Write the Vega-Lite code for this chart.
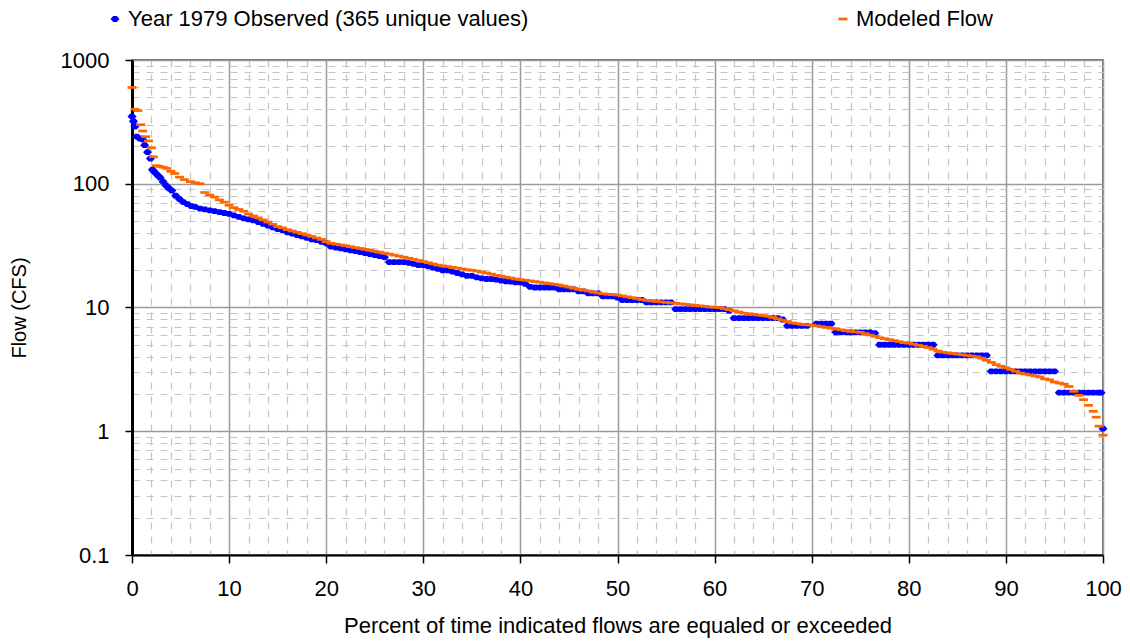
{
  "$schema": "https://vega.github.io/schema/vega-lite/v6.json",
  "width": 971,
  "height": 495,
  "autosize": {"type": "none"},
  "padding": {"left": 132, "top": 60, "right": 27, "bottom": 87},
  "background": "white",
  "config": {
    "font": "Liberation Sans",
    "view": {"stroke": "#404040", "strokeWidth": 1.5}
  },
  "data": {
    "values": [
      {"series": "Observed", "pct": 0, "flow": 350},
      {"series": "Observed", "pct": 0.15, "flow": 320},
      {"series": "Observed", "pct": 0.3, "flow": 290},
      {"series": "Observed", "pct": 0.5, "flow": 240},
      {"series": "Observed", "pct": 0.8, "flow": 232},
      {"series": "Observed", "pct": 1.1, "flow": 228},
      {"series": "Observed", "pct": 1.3, "flow": 205},
      {"series": "Observed", "pct": 1.6, "flow": 180},
      {"series": "Observed", "pct": 1.9, "flow": 160},
      {"series": "Observed", "pct": 2.1, "flow": 130},
      {"series": "Observed", "pct": 2.3, "flow": 125},
      {"series": "Observed", "pct": 2.6, "flow": 118},
      {"series": "Observed", "pct": 2.9, "flow": 112},
      {"series": "Observed", "pct": 3.2, "flow": 104},
      {"series": "Observed", "pct": 3.5, "flow": 97},
      {"series": "Observed", "pct": 3.8, "flow": 92},
      {"series": "Observed", "pct": 4.1, "flow": 88},
      {"series": "Observed", "pct": 4.5, "flow": 80},
      {"series": "Observed", "pct": 4.9, "flow": 75},
      {"series": "Observed", "pct": 5.3, "flow": 71},
      {"series": "Observed", "pct": 5.7, "flow": 68.5},
      {"series": "Observed", "pct": 6.1, "flow": 66},
      {"series": "Observed", "pct": 6.5, "flow": 65},
      {"series": "Observed", "pct": 7, "flow": 63},
      {"series": "Observed", "pct": 7.5, "flow": 62},
      {"series": "Observed", "pct": 8, "flow": 61},
      {"series": "Observed", "pct": 8.5, "flow": 60},
      {"series": "Observed", "pct": 9, "flow": 59},
      {"series": "Observed", "pct": 9.5, "flow": 58},
      {"series": "Observed", "pct": 10, "flow": 57},
      {"series": "Observed", "pct": 10.5, "flow": 55.5},
      {"series": "Observed", "pct": 11, "flow": 54},
      {"series": "Observed", "pct": 11.5, "flow": 52.5},
      {"series": "Observed", "pct": 12, "flow": 51.5},
      {"series": "Observed", "pct": 12.5, "flow": 50.5},
      {"series": "Observed", "pct": 13, "flow": 49},
      {"series": "Observed", "pct": 13.5, "flow": 47.5},
      {"series": "Observed", "pct": 14, "flow": 46},
      {"series": "Observed", "pct": 14.5, "flow": 44.5},
      {"series": "Observed", "pct": 15, "flow": 43},
      {"series": "Observed", "pct": 15.5, "flow": 42},
      {"series": "Observed", "pct": 16, "flow": 40.5},
      {"series": "Observed", "pct": 16.5, "flow": 39.5},
      {"series": "Observed", "pct": 17, "flow": 38.5},
      {"series": "Observed", "pct": 17.5, "flow": 37.5},
      {"series": "Observed", "pct": 18, "flow": 36.5},
      {"series": "Observed", "pct": 18.5, "flow": 35.5},
      {"series": "Observed", "pct": 19, "flow": 35},
      {"series": "Observed", "pct": 19.5, "flow": 34},
      {"series": "Observed", "pct": 20, "flow": 33},
      {"series": "Observed", "pct": 20.5, "flow": 31},
      {"series": "Observed", "pct": 21, "flow": 30.5},
      {"series": "Observed", "pct": 21.5, "flow": 30},
      {"series": "Observed", "pct": 22, "flow": 29.5},
      {"series": "Observed", "pct": 22.5, "flow": 29},
      {"series": "Observed", "pct": 23, "flow": 28.5},
      {"series": "Observed", "pct": 23.5, "flow": 28},
      {"series": "Observed", "pct": 24, "flow": 27.5},
      {"series": "Observed", "pct": 24.5, "flow": 27},
      {"series": "Observed", "pct": 25, "flow": 26.5},
      {"series": "Observed", "pct": 25.5, "flow": 26},
      {"series": "Observed", "pct": 26, "flow": 25.5},
      {"series": "Observed", "pct": 26.5, "flow": 23.3},
      {"series": "Observed", "pct": 27, "flow": 23.3},
      {"series": "Observed", "pct": 27.5, "flow": 23.3},
      {"series": "Observed", "pct": 28, "flow": 23.3},
      {"series": "Observed", "pct": 28.5, "flow": 23},
      {"series": "Observed", "pct": 29, "flow": 22.5},
      {"series": "Observed", "pct": 29.5, "flow": 22},
      {"series": "Observed", "pct": 30, "flow": 22},
      {"series": "Observed", "pct": 30.5, "flow": 21.5},
      {"series": "Observed", "pct": 31, "flow": 21},
      {"series": "Observed", "pct": 31.5, "flow": 20.5},
      {"series": "Observed", "pct": 32, "flow": 20},
      {"series": "Observed", "pct": 32.5, "flow": 20},
      {"series": "Observed", "pct": 33, "flow": 19.5},
      {"series": "Observed", "pct": 33.5, "flow": 19},
      {"series": "Observed", "pct": 34, "flow": 18.5},
      {"series": "Observed", "pct": 34.5, "flow": 18},
      {"series": "Observed", "pct": 35, "flow": 18},
      {"series": "Observed", "pct": 35.5, "flow": 17.5},
      {"series": "Observed", "pct": 36, "flow": 17.2},
      {"series": "Observed", "pct": 36.5, "flow": 17},
      {"series": "Observed", "pct": 37, "flow": 17},
      {"series": "Observed", "pct": 37.5, "flow": 16.8},
      {"series": "Observed", "pct": 38, "flow": 16.5},
      {"series": "Observed", "pct": 38.5, "flow": 16.3},
      {"series": "Observed", "pct": 39, "flow": 16.2},
      {"series": "Observed", "pct": 39.5, "flow": 16},
      {"series": "Observed", "pct": 40, "flow": 16},
      {"series": "Observed", "pct": 40.5, "flow": 15.5},
      {"series": "Observed", "pct": 41, "flow": 14.7},
      {"series": "Observed", "pct": 41.5, "flow": 14.5},
      {"series": "Observed", "pct": 42, "flow": 14.5},
      {"series": "Observed", "pct": 42.5, "flow": 14.5},
      {"series": "Observed", "pct": 43, "flow": 14.5},
      {"series": "Observed", "pct": 43.5, "flow": 14.5},
      {"series": "Observed", "pct": 44, "flow": 14},
      {"series": "Observed", "pct": 44.5, "flow": 14},
      {"series": "Observed", "pct": 45, "flow": 14},
      {"series": "Observed", "pct": 45.5, "flow": 14},
      {"series": "Observed", "pct": 46, "flow": 13.5},
      {"series": "Observed", "pct": 46.5, "flow": 13.5},
      {"series": "Observed", "pct": 47, "flow": 13},
      {"series": "Observed", "pct": 47.5, "flow": 13},
      {"series": "Observed", "pct": 48, "flow": 13},
      {"series": "Observed", "pct": 48.5, "flow": 12.3},
      {"series": "Observed", "pct": 49, "flow": 12.3},
      {"series": "Observed", "pct": 49.5, "flow": 12.3},
      {"series": "Observed", "pct": 50, "flow": 12},
      {"series": "Observed", "pct": 50.5, "flow": 11.5},
      {"series": "Observed", "pct": 51, "flow": 11.5},
      {"series": "Observed", "pct": 51.5, "flow": 11.5},
      {"series": "Observed", "pct": 52, "flow": 11.5},
      {"series": "Observed", "pct": 52.5, "flow": 11.5},
      {"series": "Observed", "pct": 53, "flow": 11},
      {"series": "Observed", "pct": 53.5, "flow": 11},
      {"series": "Observed", "pct": 54, "flow": 11},
      {"series": "Observed", "pct": 54.5, "flow": 11},
      {"series": "Observed", "pct": 55, "flow": 11},
      {"series": "Observed", "pct": 55.5, "flow": 11},
      {"series": "Observed", "pct": 56, "flow": 9.7},
      {"series": "Observed", "pct": 56.5, "flow": 9.7},
      {"series": "Observed", "pct": 57, "flow": 9.7},
      {"series": "Observed", "pct": 57.5, "flow": 9.7},
      {"series": "Observed", "pct": 58, "flow": 9.7},
      {"series": "Observed", "pct": 58.5, "flow": 9.7},
      {"series": "Observed", "pct": 59, "flow": 9.7},
      {"series": "Observed", "pct": 59.5, "flow": 9.7},
      {"series": "Observed", "pct": 60, "flow": 9.7},
      {"series": "Observed", "pct": 60.5, "flow": 9.7},
      {"series": "Observed", "pct": 61, "flow": 9.7},
      {"series": "Observed", "pct": 61.5, "flow": 9.4},
      {"series": "Observed", "pct": 62, "flow": 8.2},
      {"series": "Observed", "pct": 62.5, "flow": 8.2},
      {"series": "Observed", "pct": 63, "flow": 8.2},
      {"series": "Observed", "pct": 63.5, "flow": 8.2},
      {"series": "Observed", "pct": 64, "flow": 8.2},
      {"series": "Observed", "pct": 64.5, "flow": 8.2},
      {"series": "Observed", "pct": 65, "flow": 8.2},
      {"series": "Observed", "pct": 65.5, "flow": 8.2},
      {"series": "Observed", "pct": 66, "flow": 8.2},
      {"series": "Observed", "pct": 66.5, "flow": 8.2},
      {"series": "Observed", "pct": 67, "flow": 8},
      {"series": "Observed", "pct": 67.5, "flow": 7.1},
      {"series": "Observed", "pct": 68, "flow": 7.1},
      {"series": "Observed", "pct": 68.5, "flow": 7.1},
      {"series": "Observed", "pct": 69, "flow": 7.1},
      {"series": "Observed", "pct": 69.5, "flow": 7.1},
      {"series": "Observed", "pct": 70.5, "flow": 7.4},
      {"series": "Observed", "pct": 71, "flow": 7.4},
      {"series": "Observed", "pct": 71.5, "flow": 7.4},
      {"series": "Observed", "pct": 72, "flow": 7.4},
      {"series": "Observed", "pct": 72.5, "flow": 6.3},
      {"series": "Observed", "pct": 73, "flow": 6.3},
      {"series": "Observed", "pct": 73.5, "flow": 6.3},
      {"series": "Observed", "pct": 74, "flow": 6.3},
      {"series": "Observed", "pct": 74.5, "flow": 6.3},
      {"series": "Observed", "pct": 75, "flow": 6.3},
      {"series": "Observed", "pct": 75.5, "flow": 6.3},
      {"series": "Observed", "pct": 76, "flow": 6.3},
      {"series": "Observed", "pct": 76.5, "flow": 6.2},
      {"series": "Observed", "pct": 77, "flow": 5},
      {"series": "Observed", "pct": 77.5, "flow": 5},
      {"series": "Observed", "pct": 78, "flow": 5},
      {"series": "Observed", "pct": 78.5, "flow": 5},
      {"series": "Observed", "pct": 79, "flow": 5},
      {"series": "Observed", "pct": 79.5, "flow": 5},
      {"series": "Observed", "pct": 80, "flow": 5},
      {"series": "Observed", "pct": 80.5, "flow": 5},
      {"series": "Observed", "pct": 81, "flow": 5},
      {"series": "Observed", "pct": 81.5, "flow": 5},
      {"series": "Observed", "pct": 82, "flow": 5},
      {"series": "Observed", "pct": 82.5, "flow": 5},
      {"series": "Observed", "pct": 83, "flow": 4.1},
      {"series": "Observed", "pct": 83.5, "flow": 4.1},
      {"series": "Observed", "pct": 84, "flow": 4.1},
      {"series": "Observed", "pct": 84.5, "flow": 4.1},
      {"series": "Observed", "pct": 85, "flow": 4.1},
      {"series": "Observed", "pct": 85.5, "flow": 4.1},
      {"series": "Observed", "pct": 86, "flow": 4.1},
      {"series": "Observed", "pct": 86.5, "flow": 4.1},
      {"series": "Observed", "pct": 87, "flow": 4.1},
      {"series": "Observed", "pct": 87.5, "flow": 4.1},
      {"series": "Observed", "pct": 88, "flow": 4.1},
      {"series": "Observed", "pct": 88.5, "flow": 3.05},
      {"series": "Observed", "pct": 89, "flow": 3.05},
      {"series": "Observed", "pct": 89.5, "flow": 3.05},
      {"series": "Observed", "pct": 90, "flow": 3.05},
      {"series": "Observed", "pct": 90.5, "flow": 3.05},
      {"series": "Observed", "pct": 91, "flow": 3.05},
      {"series": "Observed", "pct": 91.5, "flow": 3.05},
      {"series": "Observed", "pct": 92, "flow": 3.05},
      {"series": "Observed", "pct": 92.5, "flow": 3.05},
      {"series": "Observed", "pct": 93, "flow": 3.05},
      {"series": "Observed", "pct": 93.5, "flow": 3.05},
      {"series": "Observed", "pct": 94, "flow": 3.05},
      {"series": "Observed", "pct": 94.5, "flow": 3.05},
      {"series": "Observed", "pct": 95, "flow": 3.05},
      {"series": "Observed", "pct": 95.5, "flow": 2.05},
      {"series": "Observed", "pct": 96, "flow": 2.05},
      {"series": "Observed", "pct": 96.5, "flow": 2.05},
      {"series": "Observed", "pct": 97, "flow": 2.05},
      {"series": "Observed", "pct": 97.5, "flow": 2.05},
      {"series": "Observed", "pct": 98, "flow": 2.05},
      {"series": "Observed", "pct": 98.5, "flow": 2.05},
      {"series": "Observed", "pct": 99, "flow": 2.05},
      {"series": "Observed", "pct": 99.5, "flow": 2.05},
      {"series": "Observed", "pct": 99.8, "flow": 2.05},
      {"series": "Observed", "pct": 100, "flow": 1.05},
      {"series": "Modeled", "pct": 0, "flow": 600},
      {"series": "Modeled", "pct": 0.3, "flow": 400},
      {"series": "Modeled", "pct": 0.6, "flow": 390},
      {"series": "Modeled", "pct": 0.9, "flow": 300},
      {"series": "Modeled", "pct": 1.1, "flow": 267},
      {"series": "Modeled", "pct": 1.4, "flow": 240},
      {"series": "Modeled", "pct": 1.7, "flow": 222},
      {"series": "Modeled", "pct": 2, "flow": 195},
      {"series": "Modeled", "pct": 2.2, "flow": 165},
      {"series": "Modeled", "pct": 2.5, "flow": 140},
      {"series": "Modeled", "pct": 2.8, "flow": 138},
      {"series": "Modeled", "pct": 3.2, "flow": 136},
      {"series": "Modeled", "pct": 3.6, "flow": 133},
      {"series": "Modeled", "pct": 4, "flow": 126},
      {"series": "Modeled", "pct": 4.4, "flow": 121},
      {"series": "Modeled", "pct": 4.9, "flow": 113},
      {"series": "Modeled", "pct": 5.4, "flow": 108},
      {"series": "Modeled", "pct": 6, "flow": 104},
      {"series": "Modeled", "pct": 6.5, "flow": 102},
      {"series": "Modeled", "pct": 7, "flow": 100},
      {"series": "Modeled", "pct": 7.5, "flow": 85},
      {"series": "Modeled", "pct": 8, "flow": 81},
      {"series": "Modeled", "pct": 8.5, "flow": 78},
      {"series": "Modeled", "pct": 9, "flow": 74},
      {"series": "Modeled", "pct": 9.5, "flow": 71},
      {"series": "Modeled", "pct": 10, "flow": 67},
      {"series": "Modeled", "pct": 10.5, "flow": 64},
      {"series": "Modeled", "pct": 11, "flow": 62},
      {"series": "Modeled", "pct": 11.5, "flow": 60},
      {"series": "Modeled", "pct": 12, "flow": 57},
      {"series": "Modeled", "pct": 12.5, "flow": 55},
      {"series": "Modeled", "pct": 13, "flow": 53},
      {"series": "Modeled", "pct": 13.5, "flow": 51},
      {"series": "Modeled", "pct": 14, "flow": 49},
      {"series": "Modeled", "pct": 14.5, "flow": 47},
      {"series": "Modeled", "pct": 15, "flow": 45},
      {"series": "Modeled", "pct": 15.5, "flow": 44},
      {"series": "Modeled", "pct": 16, "flow": 42.5},
      {"series": "Modeled", "pct": 16.5, "flow": 41.5},
      {"series": "Modeled", "pct": 17, "flow": 40.5},
      {"series": "Modeled", "pct": 17.5, "flow": 39.5},
      {"series": "Modeled", "pct": 18, "flow": 38.5},
      {"series": "Modeled", "pct": 18.5, "flow": 37.5},
      {"series": "Modeled", "pct": 19, "flow": 36.5},
      {"series": "Modeled", "pct": 19.5, "flow": 35.5},
      {"series": "Modeled", "pct": 20, "flow": 34},
      {"series": "Modeled", "pct": 20.5, "flow": 33},
      {"series": "Modeled", "pct": 21, "flow": 32.5},
      {"series": "Modeled", "pct": 21.5, "flow": 32},
      {"series": "Modeled", "pct": 22, "flow": 31.5},
      {"series": "Modeled", "pct": 22.5, "flow": 31},
      {"series": "Modeled", "pct": 23, "flow": 30.5},
      {"series": "Modeled", "pct": 23.5, "flow": 30},
      {"series": "Modeled", "pct": 24, "flow": 29.5},
      {"series": "Modeled", "pct": 24.5, "flow": 29},
      {"series": "Modeled", "pct": 25, "flow": 28.5},
      {"series": "Modeled", "pct": 25.5, "flow": 28},
      {"series": "Modeled", "pct": 26, "flow": 27.5},
      {"series": "Modeled", "pct": 26.5, "flow": 27},
      {"series": "Modeled", "pct": 27, "flow": 26.5},
      {"series": "Modeled", "pct": 27.5, "flow": 26},
      {"series": "Modeled", "pct": 28, "flow": 25.5},
      {"series": "Modeled", "pct": 28.5, "flow": 25},
      {"series": "Modeled", "pct": 29, "flow": 24.5},
      {"series": "Modeled", "pct": 29.5, "flow": 24},
      {"series": "Modeled", "pct": 30, "flow": 23.5},
      {"series": "Modeled", "pct": 30.5, "flow": 23},
      {"series": "Modeled", "pct": 31, "flow": 22.5},
      {"series": "Modeled", "pct": 31.5, "flow": 22},
      {"series": "Modeled", "pct": 32, "flow": 21.7},
      {"series": "Modeled", "pct": 32.5, "flow": 21.4},
      {"series": "Modeled", "pct": 33, "flow": 21.1},
      {"series": "Modeled", "pct": 33.5, "flow": 20.8},
      {"series": "Modeled", "pct": 34, "flow": 20.5},
      {"series": "Modeled", "pct": 34.5, "flow": 20.2},
      {"series": "Modeled", "pct": 35, "flow": 20},
      {"series": "Modeled", "pct": 35.5, "flow": 19.7},
      {"series": "Modeled", "pct": 36, "flow": 19.3},
      {"series": "Modeled", "pct": 36.5, "flow": 19},
      {"series": "Modeled", "pct": 37, "flow": 18.6},
      {"series": "Modeled", "pct": 37.5, "flow": 18.2},
      {"series": "Modeled", "pct": 38, "flow": 17.9},
      {"series": "Modeled", "pct": 38.5, "flow": 17.6},
      {"series": "Modeled", "pct": 39, "flow": 17.3},
      {"series": "Modeled", "pct": 39.5, "flow": 17},
      {"series": "Modeled", "pct": 40, "flow": 16.8},
      {"series": "Modeled", "pct": 40.5, "flow": 16.6},
      {"series": "Modeled", "pct": 41, "flow": 16.4},
      {"series": "Modeled", "pct": 41.5, "flow": 16.2},
      {"series": "Modeled", "pct": 42, "flow": 16},
      {"series": "Modeled", "pct": 42.5, "flow": 15.8},
      {"series": "Modeled", "pct": 43, "flow": 15.6},
      {"series": "Modeled", "pct": 43.5, "flow": 15.4},
      {"series": "Modeled", "pct": 44, "flow": 15.2},
      {"series": "Modeled", "pct": 44.5, "flow": 14.9},
      {"series": "Modeled", "pct": 45, "flow": 14.6},
      {"series": "Modeled", "pct": 45.5, "flow": 14.3},
      {"series": "Modeled", "pct": 46, "flow": 14},
      {"series": "Modeled", "pct": 46.5, "flow": 13.8},
      {"series": "Modeled", "pct": 47, "flow": 13.6},
      {"series": "Modeled", "pct": 47.5, "flow": 13.3},
      {"series": "Modeled", "pct": 48, "flow": 13.1},
      {"series": "Modeled", "pct": 48.5, "flow": 12.9},
      {"series": "Modeled", "pct": 49, "flow": 12.8},
      {"series": "Modeled", "pct": 49.5, "flow": 12.7},
      {"series": "Modeled", "pct": 50, "flow": 12.6},
      {"series": "Modeled", "pct": 50.5, "flow": 12.4},
      {"series": "Modeled", "pct": 51, "flow": 12.2},
      {"series": "Modeled", "pct": 51.5, "flow": 12},
      {"series": "Modeled", "pct": 52, "flow": 11.8},
      {"series": "Modeled", "pct": 52.5, "flow": 11.6},
      {"series": "Modeled", "pct": 53, "flow": 11.4},
      {"series": "Modeled", "pct": 53.5, "flow": 11.3},
      {"series": "Modeled", "pct": 54, "flow": 11.2},
      {"series": "Modeled", "pct": 54.5, "flow": 11.1},
      {"series": "Modeled", "pct": 55, "flow": 11},
      {"series": "Modeled", "pct": 55.5, "flow": 10.9},
      {"series": "Modeled", "pct": 56, "flow": 10.8},
      {"series": "Modeled", "pct": 56.5, "flow": 10.7},
      {"series": "Modeled", "pct": 57, "flow": 10.6},
      {"series": "Modeled", "pct": 57.5, "flow": 10.5},
      {"series": "Modeled", "pct": 58, "flow": 10.4},
      {"series": "Modeled", "pct": 58.5, "flow": 10.3},
      {"series": "Modeled", "pct": 59, "flow": 10.2},
      {"series": "Modeled", "pct": 59.5, "flow": 10.1},
      {"series": "Modeled", "pct": 60, "flow": 10.05},
      {"series": "Modeled", "pct": 60.5, "flow": 10},
      {"series": "Modeled", "pct": 61, "flow": 9.8},
      {"series": "Modeled", "pct": 61.5, "flow": 9.6},
      {"series": "Modeled", "pct": 62, "flow": 9.4},
      {"series": "Modeled", "pct": 62.5, "flow": 9.2},
      {"series": "Modeled", "pct": 63, "flow": 9},
      {"series": "Modeled", "pct": 63.5, "flow": 8.9},
      {"series": "Modeled", "pct": 64, "flow": 8.8},
      {"series": "Modeled", "pct": 64.5, "flow": 8.7},
      {"series": "Modeled", "pct": 65, "flow": 8.6},
      {"series": "Modeled", "pct": 65.5, "flow": 8.5},
      {"series": "Modeled", "pct": 66, "flow": 8.3},
      {"series": "Modeled", "pct": 66.5, "flow": 8.1},
      {"series": "Modeled", "pct": 67, "flow": 7.9},
      {"series": "Modeled", "pct": 67.5, "flow": 7.7},
      {"series": "Modeled", "pct": 68, "flow": 7.5},
      {"series": "Modeled", "pct": 68.5, "flow": 7.4},
      {"series": "Modeled", "pct": 69, "flow": 7.3},
      {"series": "Modeled", "pct": 69.5, "flow": 7.25},
      {"series": "Modeled", "pct": 70, "flow": 7.2},
      {"series": "Modeled", "pct": 70.5, "flow": 7.1},
      {"series": "Modeled", "pct": 71, "flow": 7},
      {"series": "Modeled", "pct": 71.5, "flow": 6.9},
      {"series": "Modeled", "pct": 72, "flow": 6.8},
      {"series": "Modeled", "pct": 72.5, "flow": 6.7},
      {"series": "Modeled", "pct": 73, "flow": 6.6},
      {"series": "Modeled", "pct": 73.5, "flow": 6.5},
      {"series": "Modeled", "pct": 74, "flow": 6.4},
      {"series": "Modeled", "pct": 74.5, "flow": 6.35},
      {"series": "Modeled", "pct": 75, "flow": 6.3},
      {"series": "Modeled", "pct": 75.5, "flow": 6.15},
      {"series": "Modeled", "pct": 76, "flow": 6},
      {"series": "Modeled", "pct": 76.5, "flow": 5.85},
      {"series": "Modeled", "pct": 77, "flow": 5.7},
      {"series": "Modeled", "pct": 77.5, "flow": 5.6},
      {"series": "Modeled", "pct": 78, "flow": 5.5},
      {"series": "Modeled", "pct": 78.5, "flow": 5.4},
      {"series": "Modeled", "pct": 79, "flow": 5.3},
      {"series": "Modeled", "pct": 79.5, "flow": 5.2},
      {"series": "Modeled", "pct": 80, "flow": 5.15},
      {"series": "Modeled", "pct": 80.5, "flow": 5.05},
      {"series": "Modeled", "pct": 81, "flow": 4.95},
      {"series": "Modeled", "pct": 81.5, "flow": 4.85},
      {"series": "Modeled", "pct": 82, "flow": 4.75},
      {"series": "Modeled", "pct": 82.5, "flow": 4.6},
      {"series": "Modeled", "pct": 83, "flow": 4.45},
      {"series": "Modeled", "pct": 83.5, "flow": 4.35},
      {"series": "Modeled", "pct": 84, "flow": 4.3},
      {"series": "Modeled", "pct": 84.5, "flow": 4.25},
      {"series": "Modeled", "pct": 85, "flow": 4.2},
      {"series": "Modeled", "pct": 85.5, "flow": 4.15},
      {"series": "Modeled", "pct": 86, "flow": 4.1},
      {"series": "Modeled", "pct": 86.5, "flow": 4.05},
      {"series": "Modeled", "pct": 87, "flow": 4},
      {"series": "Modeled", "pct": 87.5, "flow": 3.9},
      {"series": "Modeled", "pct": 88, "flow": 3.75},
      {"series": "Modeled", "pct": 88.5, "flow": 3.6},
      {"series": "Modeled", "pct": 89, "flow": 3.45},
      {"series": "Modeled", "pct": 89.5, "flow": 3.35},
      {"series": "Modeled", "pct": 90, "flow": 3.25},
      {"series": "Modeled", "pct": 90.5, "flow": 3.15},
      {"series": "Modeled", "pct": 91, "flow": 3.05},
      {"series": "Modeled", "pct": 91.5, "flow": 2.95},
      {"series": "Modeled", "pct": 92, "flow": 2.9},
      {"series": "Modeled", "pct": 92.5, "flow": 2.85},
      {"series": "Modeled", "pct": 93, "flow": 2.8},
      {"series": "Modeled", "pct": 93.5, "flow": 2.75},
      {"series": "Modeled", "pct": 94, "flow": 2.65},
      {"series": "Modeled", "pct": 94.5, "flow": 2.6},
      {"series": "Modeled", "pct": 95, "flow": 2.5},
      {"series": "Modeled", "pct": 95.5, "flow": 2.45},
      {"series": "Modeled", "pct": 96, "flow": 2.4},
      {"series": "Modeled", "pct": 96.5, "flow": 2.3},
      {"series": "Modeled", "pct": 97, "flow": 2.1},
      {"series": "Modeled", "pct": 97.5, "flow": 1.95},
      {"series": "Modeled", "pct": 98, "flow": 1.8},
      {"series": "Modeled", "pct": 98.5, "flow": 1.62},
      {"series": "Modeled", "pct": 99, "flow": 1.45},
      {"series": "Modeled", "pct": 99.3, "flow": 1.3},
      {"series": "Modeled", "pct": 99.6, "flow": 1.1},
      {"series": "Modeled", "pct": 100, "flow": 0.93}
    ]
  },
  "mark": {"type": "point", "filled": true, "opacity": 1, "strokeWidth": 0},
  "encoding": {
    "x": {
      "field": "pct",
      "type": "quantitative",
      "scale": {"domain": [0, 100], "nice": false, "zero": false},
      "axis": {
        "values": [0, 2, 4, 6, 8, 10, 12, 14, 16, 18, 20, 22, 24, 26, 28, 30, 32, 34, 36, 38, 40, 42, 44, 46, 48, 50, 52, 54, 56, 58, 60, 62, 64, 66, 68, 70, 72, 74, 76, 78, 80, 82, 84, 86, 88, 90, 92, 94, 96, 98, 100],
        "labelExpr": "datum.value % 10 === 0 ? datum.label : ''",
        "labelFlush": false,
        "labelOverlap": false,
        "labelFontSize": 22,
        "labelColor": "#000000",
        "labelPadding": 15,
        "grid": true,
        "gridColor": {"condition": {"test": "datum.value % 10 === 0", "value": "#9a9a9a"}, "value": "#c4c4c4"},
        "gridDash": {"condition": {"test": "datum.value % 10 === 0", "value": []}, "value": [7, 7]},
        "gridWidth": {"condition": {"test": "datum.value % 10 === 0", "value": 1.5}, "value": 1.2},
        "tickOpacity": {"condition": {"test": "datum.value % 10 === 0", "value": 1}, "value": 0},
        "tickSize": 8,
        "tickColor": "#000000",
        "tickWidth": 1.5,
        "domainColor": "#000000",
        "domainWidth": 2,
        "title": "Percent of time indicated flows are equaled or exceeded",
        "titleFontSize": 22,
        "titleFontWeight": "normal",
        "titleColor": "#000000",
        "titlePadding": 16
      }
    },
    "y": {
      "field": "flow",
      "type": "quantitative",
      "scale": {"type": "log", "domain": [0.1, 1000], "nice": false},
      "axis": {
        "values": [0.1, 0.2, 0.3, 0.4, 0.5, 0.6, 0.7, 0.8, 0.9, 1, 2, 3, 4, 5, 6, 7, 8, 9, 10, 20, 30, 40, 50, 60, 70, 80, 90, 100, 200, 300, 400, 500, 600, 700, 800, 900, 1000],
        "format": "~g",
        "labelExpr": "indexof([0.1, 1, 10, 100, 1000], datum.value) >= 0 ? datum.label : ''",
        "labelFlush": false,
        "labelOverlap": false,
        "labelFontSize": 22,
        "labelColor": "#000000",
        "labelPadding": 16,
        "grid": true,
        "gridColor": {"condition": {"test": "indexof([0.1, 1, 10, 100, 1000], datum.value) >= 0", "value": "#9a9a9a"}, "value": "#c4c4c4"},
        "gridDash": {"condition": {"test": "indexof([0.1, 1, 10, 100, 1000], datum.value) >= 0", "value": []}, "value": [7, 7]},
        "gridWidth": {"condition": {"test": "indexof([0.1, 1, 10, 100, 1000], datum.value) >= 0", "value": 1.5}, "value": 1.2},
        "tickOpacity": {"condition": {"test": "indexof([0.1, 1, 10, 100, 1000], datum.value) >= 0", "value": 1}, "value": 0},
        "tickSize": 7,
        "tickColor": "#000000",
        "tickWidth": 1.5,
        "domainColor": "#000000",
        "domainWidth": 3,
        "title": "Flow (CFS)",
        "titleFontSize": 20,
        "titleFontWeight": "normal",
        "titleColor": "#000000",
        "titlePadding": 31
      }
    },
    "color": {
      "field": "series",
      "type": "nominal",
      "scale": {"domain": ["Observed", "Modeled"], "range": ["#0000ff", "#ff6600"]},
      "legend": {
        "orient": "none",
        "legendX": -28,
        "legendY": -52,
        "direction": "horizontal",
        "title": null,
        "padding": 0,
        "labelFontSize": 22,
        "labelColor": "#000000",
        "labelLimit": 600,
        "labelOffset": 2,
        "symbolSize": 50,
        "symbolStrokeWidth": 0,
        "columnPadding": 303,
        "labelExpr": "datum.label == 'Observed' ? 'Year 1979 Observed (365 unique values)' : 'Modeled Flow'"
      }
    },
    "shape": {
      "field": "series",
      "type": "nominal",
      "scale": {"domain": ["Observed", "Modeled"], "range": ["M-1,0L-0.4,-0.65L0.4,-0.65L1,0L0.4,0.65L-0.4,0.65Z", "M-1,-0.3H1V0.3H-1Z"]},
      "legend": {
        "orient": "none",
        "legendX": -28,
        "legendY": -52,
        "direction": "horizontal",
        "title": null,
        "padding": 0,
        "labelFontSize": 22,
        "labelColor": "#000000",
        "labelLimit": 600,
        "labelOffset": 2,
        "symbolSize": 50,
        "symbolStrokeWidth": 0,
        "columnPadding": 303,
        "labelExpr": "datum.label == 'Observed' ? 'Year 1979 Observed (365 unique values)' : 'Modeled Flow'"
      }
    },
    "size": {
      "field": "series",
      "type": "nominal",
      "scale": {"domain": ["Observed", "Modeled"], "range": [80, 80]},
      "legend": null
    }
  }
}
